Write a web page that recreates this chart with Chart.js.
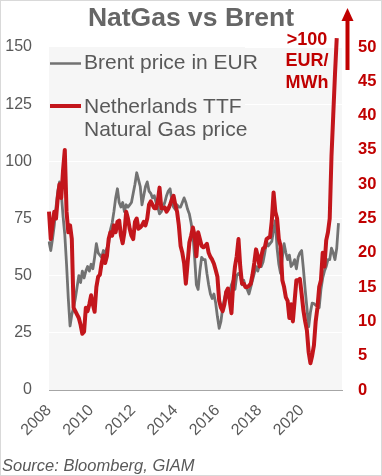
<!DOCTYPE html>
<html><head><meta charset="utf-8">
<script src="https://cdn.jsdelivr.net/npm/chart.js@4/dist/chart.umd.min.js"></script>
<style>html,body{margin:0;padding:0;background:#fff}#wrap{width:382px;height:476px;position:relative}</style>
</head><body><div id="wrap"><canvas id="c" width="382" height="476"></canvas></div>
<script>
// ---- data (monthly, Jan 2008 onwards) ----
const startYear = 2008;
const endYear = 2021;
const tickYears = [2008, 2010, 2012, 2014, 2016, 2018, 2020];
const titleText = 'NatGas vs Brent';
const brentLabel = 'Brent price in EUR';
const gasLabel = ['Netherlands TTF', 'Natural Gas price'];
const annotationLines = ['>100', 'EUR/', 'MWh'];
const sourceText = 'Source: Bloomberg, GIAM';

const brentValues = [
  65, 61, 66, 72, 80, 87, 91, 86, 76, 68, 55, 40,
  28, 33, 36, 40, 45, 50, 47, 52, 49, 52, 54, 52,
  55, 53, 58, 64, 60, 59, 58, 61, 60, 62, 64, 70,
  73, 78, 84, 88, 82, 80, 82, 78, 81, 80, 81, 82,
  86, 90, 95, 92, 89, 81, 85, 89, 91, 87, 86, 84,
  85, 82, 80, 77, 78, 80, 82, 85, 87, 88, 83, 80,
  79, 81, 80, 80, 82, 84, 82, 79, 77, 73, 68, 58,
  46, 44, 52, 58, 57, 57, 51, 46, 42, 40, 42, 38,
  32, 27, 30, 36, 40, 43, 41, 43, 46, 48, 44, 50,
  51, 50, 46, 48, 45, 44, 42, 45, 48, 51, 54, 52,
  55, 54, 56, 60, 65, 63, 64, 65, 70, 74, 62, 55,
  51, 58, 64, 60, 57, 59, 54, 55, 57, 53, 58, 60,
  61, 53, 44, 36, 27.6, 34, 38, 37.8, 37, 37, 36, 44,
  49, 52, 54, 57, 57, 62, 60, 57, 62, 73
];
const gasValues = [
  26, 22, 24, 26, 25, 28, 30, 28, 32, 35, 26, 23,
  24, 22, 12, 11.5, 11, 10.5, 9.5, 8.2, 8.5, 12, 11.5, 12.5,
  13.8, 12.5, 11.4, 15, 16.5, 16.8, 18.5, 19.6, 18.5, 19.5, 22, 23,
  22.5, 24, 23, 24.5, 24.7, 22.5, 21.4, 23, 26, 25, 23.5, 22.5,
  22, 24.5, 25, 23.5, 23.7, 24, 24.5, 24, 25, 27, 27.5, 27,
  26.5, 26.5, 27.5, 29.5, 26.5, 26.5, 26.6, 26, 26.4, 27, 27.8, 28.3,
  27, 26, 24, 21, 20, 18.5, 15.5, 18.5, 21.5, 22.5, 23.7, 22.5,
  19.5, 23, 22, 21, 20.8, 21, 21.3, 20, 19.4, 19, 18.4, 17.5,
  16.5, 13, 12, 11.5, 12.5, 14.3, 14.8, 13, 11.2, 15.5, 18, 19.5,
  22, 18, 15.5, 15.5, 15, 15, 15.2, 15.5, 16.8, 18.5, 20.5, 19.5,
  18, 19.5, 20.6, 20.8, 22, 22.2, 22.3, 24.7, 28.8, 26, 25, 22,
  21, 16, 15, 13.5, 13, 10.5, 12.5, 10, 13, 16, 16, 16.2,
  14, 11.6, 10, 8.7, 5.5, 3.9, 5, 6.5, 10, 12, 15, 16,
  20, 18, 21.8, 23, 25, 34, 40, 46, 51.3
];

const months = [];
for (let y = startYear; y <= endYear; y++) {
  for (let m = 1; m <= 12; m++) months.push(y + '-' + String(m).padStart(2, '0'));
}

// ---- styles ----
const FONT = "'Liberation Sans', Arial, sans-serif";
const GREY_TXT = '#595959';
const RED_TXT = '#c00000';
const BRENT_COL = '#727272';
const GAS_COL = '#c3161c';
const PLOT_BG = '#f6f6f6';

const decor = {
  id: 'decor',
  beforeDraw(chart) {
    const {ctx, chartArea: a} = chart;
    ctx.save();
    ctx.fillStyle = '#ffffff';
    ctx.fillRect(0, 0, chart.width, chart.height);
    ctx.fillStyle = PLOT_BG;
    ctx.fillRect(a.left, a.top, a.right - a.left, a.bottom - a.top);
    ctx.restore();
  },
  beforeDatasetsDraw(chart) {
    const {ctx, chartArea: a} = chart;
    const ds = chart.data.datasets;
    ctx.save();
    ctx.fillStyle = PLOT_BG;
    ctx.fillRect(a.left, a.top, 196, 93);
    ctx.font = '21px ' + FONT;
    ctx.fillStyle = GREY_TXT;
    ctx.textBaseline = 'middle';
    ctx.textAlign = 'left';
    // Brent entry
    ctx.strokeStyle = ds[0].borderColor; ctx.lineWidth = 2.5;
    ctx.beginPath(); ctx.moveTo(a.left + 1, 63.5); ctx.lineTo(a.left + 32, 63.5); ctx.stroke();
    ctx.fillText(ds[0].label, a.left + 35, 63);
    // Gas entry
    ctx.strokeStyle = ds[1].borderColor; ctx.lineWidth = 4;
    ctx.beginPath(); ctx.moveTo(a.left + 1, 106); ctx.lineTo(a.left + 32, 106); ctx.stroke();
    const gl = ds[1].label.split('\n');
    ctx.fillText(gl[0], a.left + 35, 107);
    ctx.fillText(gl[1], a.left + 35, 130);
    ctx.restore();
  },
  afterDraw(chart) {
    const {ctx, chartArea: a} = chart;
    ctx.save();
    // annotation text
    ctx.fillStyle = RED_TXT;
    ctx.font = 'bold 18px ' + FONT;
    ctx.textAlign = 'center';
    ctx.textBaseline = 'middle';
    annotationLines.forEach((t, i) => ctx.fillText(t, a.right - 35, 40 + i * 21.5));
    // arrow
    const ax = a.right + 5.5;
    ctx.strokeStyle = RED_TXT; ctx.lineWidth = 4;
    ctx.beginPath(); ctx.moveTo(ax, 70); ctx.lineTo(ax, 19); ctx.stroke();
    ctx.beginPath(); ctx.moveTo(ax, 8); ctx.lineTo(ax + 6, 21); ctx.lineTo(ax - 6, 21); ctx.closePath(); ctx.fill();
    // source
    ctx.fillStyle = GREY_TXT;
    ctx.font = 'italic 16.5px ' + FONT;
    ctx.textAlign = 'left';
    ctx.textBaseline = 'alphabetic';
    ctx.fillText(sourceText, 2, 471);
    // frame
    ctx.strokeStyle = '#d9d9d9'; ctx.lineWidth = 1;
    ctx.strokeRect(0.5, 0.5, chart.width - 1, chart.height - 1);
    ctx.restore();
  }
};

new Chart(document.getElementById('c'), {
  type: 'line',
  data: {
    labels: months,
    datasets: [
      {label: brentLabel, data: brentValues, yAxisID: 'y', borderColor: BRENT_COL, borderWidth: 2.8,
       pointRadius: 0, tension: 0, order: 1, borderJoinStyle: 'round'},
      {label: gasLabel.join('\n'), data: gasValues, yAxisID: 'y2', borderColor: GAS_COL, borderWidth: 4,
       pointRadius: 0, tension: 0, order: 0, clip: false, borderJoinStyle: 'round'}
    ]
  },
  options: {
    responsive: false,
    animation: false,
    devicePixelRatio: 1,
    layout: {padding: 0},
    plugins: {
      legend: {display: false},
      tooltip: {enabled: false},
      title: {display: true, text: titleText, color: '#666666',
        font: {family: FONT, size: 26.5, weight: 'bold'}, padding: {top: 3, bottom: 12.2}}
    },
    scales: {
      x: {
        type: 'category',
        grid: {display: false, drawTicks: false},
        border: {display: true, color: '#a6a6a6', width: 1},
        ticks: {
          autoSkip: false, minRotation: 45, maxRotation: 45, padding: 11,
          color: GREY_TXT, font: {family: FONT, size: 16},
          callback: function (v) {
            const lab = this.getLabelForValue(v);
            const yr = +lab.slice(0, 4);
            return lab.endsWith('-01') && tickYears.includes(yr) ? String(yr) : '';
          }
        },
        afterFit: s => { s.height = 86; }
      },
      y: {
        position: 'left', min: 0, max: 150,
        grid: {color: '#ffffff', lineWidth: 1, drawTicks: false},
        border: {display: false},
        ticks: {stepSize: 25, padding: 17, color: GREY_TXT, font: {family: FONT, size: 16}},
        afterFit: s => { s.width = 49; }
      },
      y2: {
        position: 'right', min: 0, max: 50,
        grid: {display: false, drawTicks: false},
        border: {display: false},
        ticks: {stepSize: 5, padding: 16, color: RED_TXT, font: {family: FONT, size: 16.5, weight: 'bold'}},
        afterFit: s => { s.width = 40; }
      }
    }
  },
  plugins: [decor]
});
</script>
</body></html>
